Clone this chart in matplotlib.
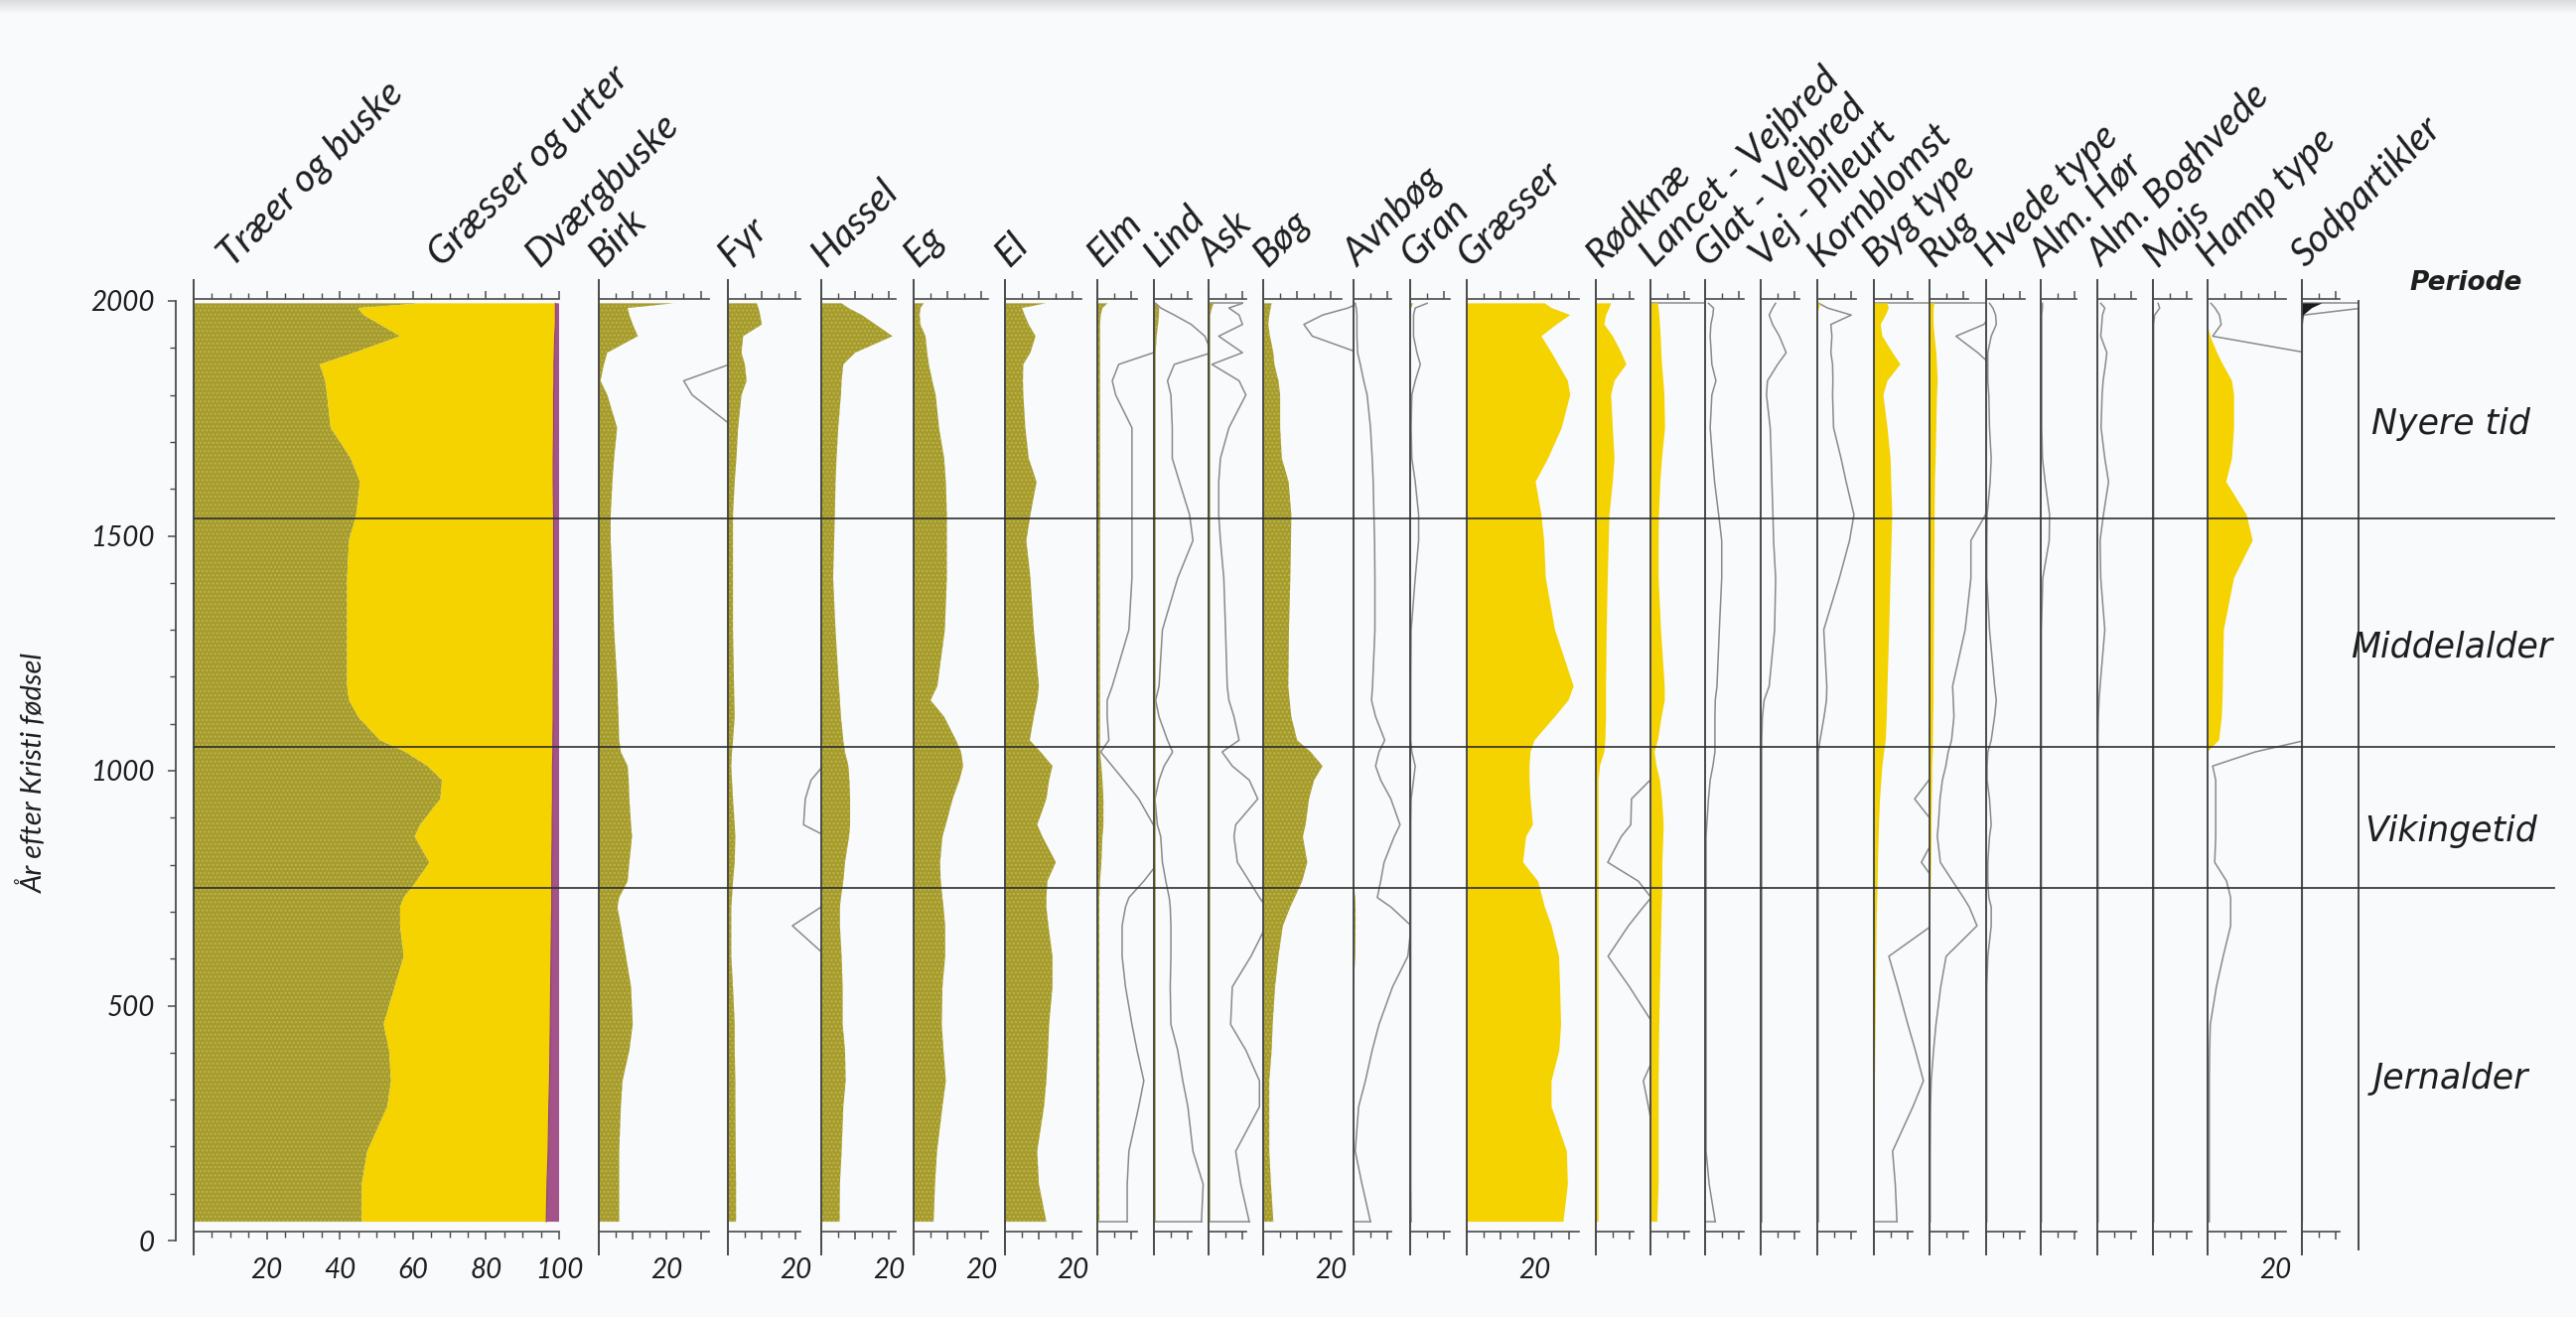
import numpy as np
import matplotlib
matplotlib.use("Agg")
import matplotlib.pyplot as plt

plt.rcParams['font.family'] = ['Lato', 'DejaVu Sans']
plt.rcParams['hatch.linewidth'] = 0.9

FIG_W, FIG_H, DPI = 2594, 1326, 100

# ---------------------------------------------------------------- data
years = [1995, 1985, 1970, 1950, 1925, 1890, 1865, 1830, 1800, 1730,
         1665, 1615, 1545, 1490, 1410, 1300, 1180, 1150, 1115, 1065,
         1040, 1010, 980, 940, 885, 860, 805, 765, 730, 710,
         670, 605, 540, 460, 405, 340, 285, 190, 120, 40]

# summary diagram (percent of total pollen)
traer = [62, 45, 46.5, 51, 56.5, 44, 34.5, 36, 36.5, 37.5,
         43, 45.5, 44.5, 42.5, 42, 42, 42, 42.5, 45, 51,
         58, 64, 68, 67.5, 62, 60.5, 64.5, 61, 57.5, 56.5,
         56.5, 57.5, 55, 52, 53.5, 54, 53, 47.5, 46, 46]
graesser_urter = [37, 54, 52.5, 48, 42.3, 54.7, 64.1, 62.6, 62, 61,
                  55.4, 52.9, 54, 56, 56.5, 56.5, 56.4, 55.9, 53.4, 47.3,
                  40.3, 34.2, 30.2, 30.7, 36.1, 37.6, 33.5, 37, 40.5, 41.5,
                  41.4, 40.3, 42.7, 45.6, 44, 43.4, 44.2, 49.5, 50.7, 50.5]
dvaergbuske = [1.0, 1.0, 1.0, 1.0, 1.2, 1.3, 1.4, 1.4, 1.5, 1.5,
               1.6, 1.6, 1.5, 1.5, 1.5, 1.5, 1.6, 1.6, 1.6, 1.7,
               1.7, 1.8, 1.8, 1.8, 1.9, 1.9, 2.0, 2.0, 2.0, 2.0,
               2.1, 2.2, 2.3, 2.4, 2.5, 2.6, 2.8, 3.0, 3.3, 3.5]

# trees
birk = [22, 8.5, 9, 10, 11.5, 2.5, 1.5, 0.5, 2.5, 5.4,
        4.5, 4, 3.5, 3.5, 4, 4.5, 5.5, 5.6, 5.8, 6,
        6.5, 8.5, 8.8, 9, 9.5, 9.8, 9, 8.5, 6, 5.5,
        6.5, 8, 9.5, 10, 9, 7, 6.5, 6, 6, 6]
birk_x = [40, 40, 40, 40, 40, 40, 38.5, 25, 27.5, 40,
          40, 40, 40, 40, 40, 40, 40, 40, 40, 40,
          40, 40, 40, 40, 40, 40, 40, 40, 40, 40,
          40, 40, 40, 40, 40, 40, 40, 40, 40, 40]
fyr = [8.5, 9, 9.5, 10, 4.5, 4, 5, 5.5, 4, 3,
       2.5, 2, 1.5, 1.5, 1.5, 1.5, 1.8, 1.9, 2, 1.5,
       1.2, 1.0, 1.2, 1.5, 2, 2.2, 2.0, 1.5, 1.2, 1.0,
       1.0, 1.0, 1.5, 2, 2, 2.2, 2.2, 2.3, 2.4, 2.4]
fyr_x = [29, 29, 29, 29, 29, 29, 29, 29, 29, 29,
         29, 29, 29, 29, 29, 29, 29, 29, 29, 29,
         29, 28, 24.5, 22.8, 22.3, 29, 29, 29, 29, 27.5,
         19, 29, 29, 29, 29, 29, 29, 29, 29, 29]
hassel = [6, 8, 12, 16, 21, 10, 6.5, 6, 5.8, 5,
          4.5, 4.2, 4, 3.8, 3.5, 4.2, 5.2, 5.5, 5.8, 6.5,
          7, 8, 8.3, 8.5, 8.5, 8.2, 7, 6.5, 5.8, 5.5,
          5.5, 6, 6.3, 6.3, 7, 7.2, 6.5, 6, 5.5, 5.4]
eg = [3, 2, 1.8, 2, 3.5, 4, 4.5, 5.5, 6.5, 7.5,
      9, 9.5, 9.8, 9.8, 9.8, 9.2, 7, 5, 9, 12.5,
      14, 14.6, 13.5, 11.5, 9.5, 8.5, 7.8, 8, 8.5, 8.8,
      9.3, 9.3, 8.5, 8.3, 8.8, 9.5, 8.5, 6.9, 6.3, 5.9]
el = [12, 5, 5.8, 7, 9, 7.5, 5.4, 5.3, 5.4, 6,
      7, 9.3, 7.5, 6.3, 7.5, 8.5, 10, 9.5, 8.5, 7.3,
      10.5, 14, 13, 12.2, 9.5, 11, 15, 12.5, 12.2, 12.2,
      12.8, 14, 14, 13, 12.7, 12.2, 11.5, 9.5, 10, 12.2]
elm = [3, 1.5, 1, 0.8, 0.8, 0.8, 0.8, 0.8, 0.8, 0.8,
       0.8, 0.8, 0.8, 0.8, 0.8, 0.8, 0.8, 0.8, 0.8, 0.8,
       0.8, 1.2, 1.5, 1.8, 1.8, 1.5, 1.2, 0.8, 0.6, 0.6,
       0.6, 0.6, 0.6, 0.6, 0.6, 0.6, 0.6, 0.6, 0.6, 0.6]
elm_x = [18, 18, 18, 18, 18, 16.6, 6.3, 4.4, 5.4, 10.2,
         10.2, 10.2, 10.2, 10.2, 10.2, 9.3, 4.4, 2.9, 2.9, 3.4,
         1, 4.4, 7.8, 12.2, 16.5, 18, 18, 13.7, 9.3, 8.3,
         7.3, 7.3, 8.3, 10.2, 11.7, 13.7, 12.2, 9.3, 8.8, 8.8]
lind = [0.5, 1.5, 1.5, 1.2, 0.8, 0.5, 0.5, 0.5, 0.5, 0.5,
        0.5, 0.5, 0.5, 0.5, 0.5, 0.5, 0.5, 0.5, 0.5, 0.5,
        0.5, 0.5, 0.5, 0.5, 0.5, 0.5, 0.5, 0.5, 0.5, 0.5,
        0.5, 0.5, 0.5, 0.5, 0.5, 0.5, 0.5, 0.5, 0.5, 0.5]
lind_x = [0.5, 2, 6, 11, 15, 17, 6, 4, 5, 5.4,
          5.4, 7.5, 10.5, 11.5, 7, 2.5, 1.5, 0.5, 1.5, 4,
          5.5, 3, 1.5, 0.3, 1, 2, 2.5, 3.5, 4.5, 4.8,
          5, 5, 4.8, 5, 7, 8.5, 10, 11.5, 14.5, 14]
ask = [1.5, 1, 0.5, 0.5, 0.5, 0.5, 0.5, 0.5, 0.5, 0.5,
       0.5, 0.5, 0.5, 0.5, 0.5, 0.5, 0.5, 0.5, 0.5, 0.5,
       0.5, 0.5, 0.5, 0.5, 0.5, 0.5, 0.5, 0.5, 0.5, 0.5,
       0.5, 0.5, 0.5, 0.5, 0.5, 0.5, 0.5, 0.5, 0.5, 0.5]
ask_x = [10, 6, 9, 10, 3, 10, 1, 9, 11, 6,
         3.5, 3, 3, 3.5, 4.5, 5, 5.5, 6, 7.5, 9,
         4, 7, 12, 14.5, 8, 7.5, 8.5, 12, 15, 17,
         17, 12.5, 7, 6.5, 11, 15, 15, 8, 9.5, 12]
bog = [2.5, 2.2, 1.8, 1.5, 2, 3, 3.3, 4.5, 5, 5,
       5.5, 7.5, 8.3, 8.2, 8, 7.6, 7.4, 7.8, 8.3, 10,
       14, 17.5, 15, 13.5, 12.5, 11.7, 13, 11.5, 9.3, 8,
       5.8, 4.5, 3.5, 2.8, 2.5, 1.8, 1.8, 1.8, 2.3, 3]
bog_x = [28, 25, 17.5, 12, 14.5, 28, 28, 28, 28, 28,
         28, 28, 28, 28, 28, 28, 28, 28, 28, 28,
         28, 28, 28, 28, 28, 28, 28, 28, 28, 28,
         28, 28, 28, 28, 28, 28, 28, 28, 28, 28]
avnbog = [0, 0, 0, 0, 0, 0, 0, 0, 0, 0,
          0, 0, 0, 0, 0, 0, 0, 0, 0, 0,
          0, 0, 0, 0, 0, 0, 0, 0, 0.5, 0.6,
          0.6, 0.5, 0, 0, 0, 0, 0, 0, 0, 0]
avnbog_x = [0.5, 0.8, 1, 1, 1, 1.2, 2, 3, 4, 5,
            5.5, 5.8, 6, 6.2, 6.3, 6.3, 5.6, 5.3, 6.5, 9.2,
            7.5, 6.5, 8, 11, 13.7, 12, 9, 8, 7, 11,
            17, 16, 11.5, 7.5, 5.5, 3.5, 1.5, 0.5, 2.5, 5]
gran = [0.8, 0.3, 0.2, 0.2, 0.2, 0.2, 0.2, 0.2, 0.2, 0.2,
        0.2, 0.2, 0.2, 0.2, 0.2, 0.2, 0.2, 0.2, 0.2, 0.2,
        0.2, 0.2, 0.2, 0.2, 0.2, 0.2, 0.2, 0.2, 0.2, 0.2,
        0.2, 0.2, 0.2, 0.2, 0.2, 0.2, 0.2, 0.2, 0.2, 0.2]
gran_x = [5, 1.5, 1, 1, 1, 2, 3, 1.5, 0.5, 0.3,
          0.5, 1.5, 2.5, 2.5, 1.5, 0.3, 0.2, 0.2, 0.2, 0.2,
          0.5, 1.5, 1, 0.3, 0.2, 0.2, 0.2, 0.2, 0.2, 0.2,
          0.2, 0.2, 0.2, 0.2, 0.2, 0.2, 0.2, 0.2, 0.2, 0.3]

# herbs and cultivated plants
graesser = [23, 25, 30.5, 26.5, 22, 25, 27, 29.8, 30.5, 28,
            24, 20.3, 22, 22.8, 23.3, 26, 31.5, 30, 26, 20,
            18.8, 18.5, 18.5, 18.8, 19.5, 17.5, 16.6, 21, 22.3, 23,
            25, 27.2, 27.5, 27.8, 27.3, 25, 25, 29.5, 29.8, 28.5]
rodknae = [4.5, 4, 3, 2.5, 5, 7.5, 9, 5.5, 4.5, 5,
           5.5, 5, 4, 3.8, 3.5, 3.2, 3, 3, 3, 2.8,
           2.5, 1.2, 0.8, 0.8, 0.8, 0.8, 0.8, 0.8, 0.8, 0.8,
           0.8, 0.8, 0.8, 0.8, 0.8, 0.8, 0.8, 0.8, 0.8, 0.8]
rodknae_x = [18, 18, 18, 18, 18, 18, 18, 18, 18, 18,
             18, 18, 18, 18, 18, 18, 18, 18, 18, 18,
             18, 18, 16, 10.5, 10.3, 7.5, 3.5, 12.5, 16.3, 14,
             9.6, 3.6, 9.9, 17, 18, 14, 15.5, 18, 18, 18]
lancet = [2.2, 2.4, 2.6, 2.8, 3, 3.2, 3.4, 3.8, 4.1, 4.3,
          3.4, 2.9, 2.5, 2.4, 2.4, 3.1, 4.2, 4.2, 3.3, 2.2,
          1.2, 1.8, 2.8, 3.4, 3.9, 3.8, 3.5, 3.5, 3.4, 3.3,
          3.2, 3, 2.8, 2.6, 2.5, 2.4, 2.4, 2.4, 2.4, 2]
lancet_x = [18, 18, 18, 18, 18, 18, 18, 18, 18, 18,
            18, 18, 18, 18, 18, 18, 18, 18, 18, 18,
            18, 18, 18, 18, 18, 18, 18, 18, 18, 18,
            18, 18, 18, 18, 18, 18, 18, 18, 18, 18]
glat_x = [1, 2.5, 2.3, 1.7, 1.5, 1.8, 2, 3.2, 2, 1.5,
          2.2, 2.8, 4, 4.9, 4.9, 4.2, 3.5, 3, 2.9, 2.9,
          2.9, 2.3, 1.5, 1, 0.5, 0.3, 0.3, 0.3, 0.3, 0.3,
          0.3, 0.3, 0.3, 0.3, 0.3, 0.3, 0.3, 0.3, 1.2, 3]
vej_x = [4.4, 3.5, 2.5, 3.5, 5.5, 7.5, 5, 2, 1.7, 2.8,
         3.1, 3.3, 3.6, 3.8, 4.4, 4.1, 2.5, 1, 0.5, 0.3,
         0.3, 0.3, 0.3, 0.3, 0.3, 0.3, 0.3, 0.3, 0.3, 0.3,
         0.3, 0.3, 0.3, 0.3, 0.3, 0.3, 0.3, 0.3, 0.3, 0.3]
korn = [1, 0.5, 0, 0, 0, 0, 0, 0, 0, 0,
        0, 0, 0, 0, 0, 0, 0, 0, 0, 0,
        0, 0, 0, 0, 0, 0, 0, 0, 0, 0,
        0, 0, 0, 0, 0, 0, 0, 0, 0, 0]
korn_x = [0.5, 3, 10, 4, 4.3, 4, 4.5, 4.6, 4.5, 4.8,
          7, 8.5, 10.8, 9.5, 6.5, 1.9, 2.8, 2.7, 2, 0.8,
          0.3, 0.3, 0.3, 0.3, 0.3, 0.3, 0.3, 0.3, 0.3, 0.3,
          0.3, 0.3, 0.3, 0.3, 0.3, 0.3, 0.3, 0.3, 0.3, 0.3]
byg = [4, 4.4, 3.5, 2, 2.5, 5.5, 7.8, 4, 2.8, 4,
       4.9, 5.1, 5.4, 5.2, 4.9, 4.5, 4, 3.9, 3.8, 3.5,
       3, 2.5, 2.2, 1.8, 1.5, 1.4, 1.2, 1.1, 1, 0.9,
       0.8, 0.7, 0.6, 0.5, 0.4, 0.3, 0.3, 0.2, 0.2, 0.2]
byg_x = [18, 18, 18, 18, 18, 18, 18, 18, 18, 18,
         18, 18, 18, 18, 18, 18, 18, 18, 18, 18,
         18, 18, 16.2, 12, 18, 18, 14, 18, 18, 18,
         17, 4.4, 7, 10, 12.2, 14.6, 11.5, 5.5, 6.3, 6.8]
rug = [1.5, 1.2, 1.2, 1.2, 1.5, 2, 2.2, 2.4, 2.2, 2,
       1.8, 1.6, 1.5, 1.5, 1.4, 1.3, 1.2, 1.2, 1.1, 1,
       1, 0.8, 0.8, 0.7, 0.6, 0.6, 0.5, 0.4, 0.3, 0.3,
       0.1, 0, 0, 0, 0, 0, 0, 0, 0, 0]
rug_x = [18, 18, 18, 16, 7.8, 14.2, 18, 18, 18, 18,
         18, 18, 16.5, 12.2, 12.2, 10.5, 6.8, 7, 7.2, 6.5,
         5.5, 4.8, 3.8, 3.1, 2.6, 2.3, 3.2, 6.8, 10, 11.7,
         14, 4.9, 3.3, 1.9, 1.2, 0.5, 0.3, 0.2, 0.2, 0.2]
hvede_x = [1, 2, 2.8, 3, 1.5, 0.5, 0.5, 0.5, 0.8, 1,
           1.5, 1.2, 0.3, 0.2, 0.2, 1, 2.5, 3, 2.5, 1.5,
           0.5, 0.3, 0.3, 1, 1.5, 1, 0.5, 0.5, 0.8, 1.5,
           1.5, 0.5, 0.2, 0.2, 0.2, 0.2, 0.2, 0.2, 0.2, 0.2]
hor_x = [0.5, 0.5, 0.3, 0.3, 0.3, 0.3, 0.3, 0.3, 0.3, 0.3,
         0.5, 1.3, 2.6, 2.5, 0.6, 0.2, 0.2, 0.2, 0.2, 0.2,
         0.2, 0.2, 0.2, 0.2, 0.2, 0.2, 0.2, 0.2, 0.2, 0.2,
         0.2, 0.2, 0.2, 0.2, 0.2, 0.2, 0.2, 0.2, 0.2, 0.2]
boghvede_x = [1, 2.2, 1.5, 1.3, 1, 2.8, 2.4, 1.7, 1.4, 1.1,
              2.2, 3.3, 1.8, 0.8, 1, 2.2, 0.8, 0.5, 0.3, 0.2,
              0.2, 0.2, 0.2, 0.2, 0.2, 0.2, 0.2, 0.2, 0.2, 0.2,
              0.2, 0.2, 0.2, 0.2, 0.2, 0.2, 0.2, 0.2, 0.2, 0.2]
majs_x = [1.5, 2, 0.5, 0.2, 0.2, 0.2, 0.2, 0.2, 0.2, 0.2,
          0.2, 0.2, 0.2, 0.2, 0.2, 0.2, 0.2, 0.2, 0.2, 0.2,
          0.2, 0.2, 0.2, 0.2, 0.2, 0.2, 0.2, 0.2, 0.2, 0.2,
          0.2, 0.2, 0.2, 0.2, 0.2, 0.2, 0.2, 0.2, 0.2, 0.2]
hamp = [0, 0, 0, 0, 0.8, 2.8, 4.5, 7.2, 7.8, 7.8,
        7.2, 5.5, 11.5, 13.3, 7.8, 4.8, 4.5, 4.4, 4.2, 3.4,
        0, 0, 0, 0, 0, 0, 0, 0, 0, 0,
        0, 0, 0, 0, 0, 0, 0, 0, 0, 0]
hamp_x = [1, 2.2, 3.5, 4, 1.5, 29, 29, 29, 29, 29,
          29, 29, 29, 29, 29, 29, 29, 29, 29, 29,
          14, 1.5, 2.4, 2.4, 2.4, 2.4, 2.1, 5.6, 6.8, 6.8,
          6.8, 4.6, 2.6, 0.8, 0.6, 0.5, 0.5, 0.5, 0.5, 0.5]
sod = [6, 3, 0.5, 0, 0, 0, 0, 0, 0, 0,
       0, 0, 0, 0, 0, 0, 0, 0, 0, 0,
       0, 0, 0, 0, 0, 0, 0, 0, 0, 0,
       0, 0, 0, 0, 0, 0, 0, 0, 0, 0]
sod_x = [18, 18, 0.5, 0.1, 0.1, 0.1, 0.1, 0.1, 0.1, 0.1,
         0.1, 0.1, 0.1, 0.1, 0.1, 0.1, 0.1, 0.1, 0.1, 0.1,
         0.1, 0.1, 0.1, 0.1, 0.1, 0.1, 0.1, 0.1, 0.1, 0.1,
         0.1, 0.1, 0.1, 0.1, 0.1, 0.1, 0.1, 0.1, 0.1, 0.1]

period_names = ["Nyere tid", "Middelalder", "Vikingetid", "Jernalder"]
period_bounds = [2000, 1536, 1050, 750, 0]

# ---------------------------------------------------------------- style
BG = '#f8fafb'
OLIVE = '#a69c2c'
OLIVE_GRAIN = '#bfb556'
YELLOW = '#f4d300'
MAGENTA = '#a4528a'
BLACK = '#1a1a1a'
LINE_GREY = '#8a8a8a'
SPINE = '#4a4a4a'
TEXT = '#1e1e1e'
TITLE_SIZE = 28

panels = [
    # title, fill values, colour, exaggeration curve, axis length, "20" label
    ("Birk", birk, OLIVE, birk_x, 32.5, True),
    ("Fyr", fyr, OLIVE, fyr_x, 21.5, True),
    ("Hassel", hassel, OLIVE, None, 22, True),
    ("Eg", eg, OLIVE, None, 22, True),
    ("El", el, OLIVE, None, 22.5, True),
    ("Elm", elm, OLIVE, elm_x, 11.7, False),
    ("Lind", lind, OLIVE, lind_x, 11.2, False),
    ("Ask", ask, OLIVE, ask_x, 11.2, False),
    ("Bøg", bog, OLIVE, bog_x, 23, True),
    ("Avnbøg", avnbog, OLIVE, avnbog_x, 11.2, False),
    ("Gran", gran, OLIVE, gran_x, 11.7, False),
    ("Græsser", graesser, YELLOW, None, 33, True),
    ("Rødknæ", rodknae, YELLOW, rodknae_x, 11.2, False),
    ("Lancet - Vejbred", lancet, YELLOW, lancet_x, 11.5, False),
    ("Glat - Vejbred", None, None, glat_x, 11.5, False),
    ("Vej - Pileurt", None, None, vej_x, 11.5, False),
    ("Kornblomst", korn, YELLOW, korn_x, 11.5, False),
    ("Byg type", byg, YELLOW, byg_x, 11.5, False),
    ("Rug", rug, YELLOW, rug_x, 11.5, False),
    ("Hvede type", None, None, hvede_x, 11.5, False),
    ("Alm. Hør", None, None, hor_x, 10.5, False),
    ("Alm. Boghvede", None, None, boghvede_x, 11.5, False),
    ("Majs", None, None, majs_x, 11.5, False),
    ("Hamp type", hamp, YELLOW, hamp_x, 23, True),
    ("Sodpartikler", sod, BLACK, sod_x, 11.2, False),
]
CLOSE_TOP = {"Ask", "Lancet - Vejbred", "Byg type", "Rug", "Sodpartikler"}
CLOSE_BOTTOM = {"Elm", "Lind", "Ask", "Avnbøg", "Glat - Vejbred", "Byg type"}

# ---------------------------------------------------------------- layout (pixels)
SPINE_PX = [603, 733, 827, 920, 1012, 1105, 1162, 1217, 1272, 1363, 1420, 1477,
            1607, 1662, 1717, 1773, 1830, 1887, 1943, 2000, 2055, 2112, 2168,
            2223, 2318]
RIGHT_END_PX = 2375
MAIN_PX = (195, 563)
YEAR_AXIS_PX = 177
PX_PER_PCT = 3.417
Y0_PX, PX_PER_YEAR = 1249, 0.473
YEAR_MIN, YEAR_MAX = -30, 2045
TOP_AXIS_YEAR, BOTTOM_AXIS_YEAR = 2005, 20
TITLE_BASE_PX = 270
TITLE_ROT = 45

def rect(x0, x1):
    y_top = Y0_PX - YEAR_MAX * PX_PER_YEAR
    y_bot = Y0_PX - YEAR_MIN * PX_PER_YEAR
    return [x0 / FIG_W, 1 - y_bot / FIG_H, (x1 - x0) / FIG_W, (y_bot - y_top) / FIG_H]

def fig_xy(x, y):
    return x / FIG_W, 1 - y / FIG_H

def title_text(xpx, label):
    fx, fy = fig_xy(xpx, TITLE_BASE_PX)
    fig.text(fx, fy, label, rotation=TITLE_ROT, rotation_mode='anchor', ha='left',
             va='baseline', fontsize=TITLE_SIZE, fontstyle='italic', color=TEXT)

fig = plt.figure(figsize=(FIG_W / DPI, FIG_H / DPI), dpi=DPI, facecolor=BG)

# faint grey band along the top edge
band = fig.add_axes([0, 1 - 14 / FIG_H, 1, 14 / FIG_H])
band.imshow(np.linspace(0, 1, 14)[:, None], aspect='auto',
            cmap=matplotlib.colors.LinearSegmentedColormap.from_list('band', ['#dcdcdc', BG]))
band.axis('off')

def style_panel(ax, xmax, axis_len, majors, labelled):
    ax.set_xlim(0, xmax)
    ax.set_ylim(YEAR_MIN, YEAR_MAX)
    ax.patch.set_visible(False)
    ax.spines['right'].set_visible(False)
    ax.spines['left'].set_color(SPINE)
    ax.spines['left'].set_linewidth(1.4)
    for side, yr in (('top', TOP_AXIS_YEAR), ('bottom', BOTTOM_AXIS_YEAR)):
        sp = ax.spines[side]
        sp.set_position(('data', yr))
        sp.set_bounds(0, axis_len)
        sp.set_color(SPINE)
        sp.set_linewidth(1.2)
    ax.xaxis.set_ticks_position('both')
    ax.set_xticks(majors)
    ax.set_xticklabels([f"{m:g}" if m in labelled else "" for m in majors],
                       fontstyle='italic', fontsize=20, color=TEXT)
    minors = np.arange(0, axis_len + 0.01, 5)
    ax.set_xticks(minors, minor=True)
    ax.tick_params(axis='x', which='major', length=6, width=1.1, direction='out',
                   color=SPINE, pad=13, labeltop=False, labelbottom=True)
    ax.tick_params(axis='x', which='minor', length=4, width=1.0, direction='out',
                   color=SPINE)
    ax.set_yticks([])

def olive_fill(ax, vals, left=None):
    lo = 0 if left is None else left
    ax.fill_betweenx(years, lo, vals, facecolor=OLIVE, edgecolor='none', lw=0, zorder=2)
    ax.fill_betweenx(years, lo, vals, facecolor='none', edgecolor=OLIVE_GRAIN,
                     lw=0, hatch='....', zorder=2.1)

# ---------------------------------------------------------------- summary panel
ax = fig.add_axes(rect(*MAIN_PX))
style_panel(ax, 100, 100, np.arange(0, 101, 20), {20, 40, 60, 80, 100})
t = np.array(traer)
h = t + np.array(graesser_urter)
d = h + np.array(dvaergbuske)
olive_fill(ax, t)
ax.fill_betweenx(years, t, h, facecolor=YELLOW, edgecolor='none', lw=0, zorder=2)
ax.fill_betweenx(years, h, d, facecolor=MAGENTA, edgecolor='none', lw=0, zorder=2)
ax.plot(h, years, color='#8a3f70', lw=0.8, zorder=2.2)
for label, xpx in (("Træer og buske", 234), ("Græsser og urter", 445), ("Dværgbuske", 543)):
    title_text(xpx, label)

# ---------------------------------------------------------------- taxon panels
for i, (title, vals, col, exag, axis_len, has20) in enumerate(panels):
    x0 = SPINE_PX[i]
    x1 = SPINE_PX[i + 1] if i + 1 < len(SPINE_PX) else RIGHT_END_PX
    xmax = (x1 - x0) / PX_PER_PCT
    ax = fig.add_axes(rect(x0, x1))
    majors = np.arange(0, axis_len + 0.01, 10)
    style_panel(ax, xmax, axis_len, majors, {20} if has20 else set())
    if exag is not None:
        ax.plot(exag, years, color=LINE_GREY, lw=1.1, zorder=1.5)
        if title in CLOSE_TOP:
            ax.plot([0, exag[0]], [years[0], years[0]], color=LINE_GREY, lw=1.1, zorder=1.5)
        if title in CLOSE_BOTTOM:
            ax.plot([0, exag[-1]], [years[-1], years[-1]], color=LINE_GREY, lw=1.1, zorder=1.5)
    if vals is not None:
        if col == OLIVE:
            olive_fill(ax, vals)
        else:
            ax.fill_betweenx(years, 0, vals, facecolor=col, edgecolor='none', lw=0, zorder=2)
    if title == "Sodpartikler":
        ax.spines['right'].set_visible(True)
        ax.spines['right'].set_bounds(YEAR_MIN + 10, 2000)
        ax.spines['right'].set_color(SPINE)
        ax.spines['right'].set_linewidth(1.4)
    title_text(x0 + 4, title)

# ---------------------------------------------------------------- year axis
ay = fig.add_axes(rect(YEAR_AXIS_PX, YEAR_AXIS_PX + 2))
ay.set_ylim(YEAR_MIN, YEAR_MAX)
ay.patch.set_visible(False)
for s in ('top', 'right', 'bottom'):
    ay.spines[s].set_visible(False)
ay.spines['left'].set_bounds(0, 2000)
ay.spines['left'].set_color(SPINE)
ay.spines['left'].set_linewidth(1.3)
ay.set_xticks([])
ay.set_yticks(np.arange(0, 2001, 500))
ay.set_yticklabels([f"{v}" for v in range(0, 2001, 500)], fontstyle='italic',
                   fontsize=20, color=TEXT)
ay.set_yticks(np.arange(0, 2001, 100), minor=True)
ay.tick_params(axis='y', which='major', length=6, width=1.1, direction='out', color=SPINE, pad=9)
ay.tick_params(axis='y', which='minor', length=4, width=1.0, direction='out', color=SPINE)

fx, fy = fig_xy(33, 778)
fig.text(fx, fy, "År efter Kristi fødsel", rotation=90, ha='center', va='center',
         fontsize=21, fontstyle='italic', color=TEXT)

# ---------------------------------------------------------------- periods
ov = fig.add_axes(rect(MAIN_PX[0], 2573), zorder=5)
ov.set_xlim(0, 1)
ov.set_ylim(YEAR_MIN, YEAR_MAX)
ov.axis('off')
for b in period_bounds[1:-1]:
    ov.axhline(b, color='#2e2e2e', lw=1.2)
for name, top, bot in zip(period_names, period_bounds[:-1], period_bounds[1:]):
    ov.text(0.956, (top + bot) / 2 - 30, name, ha='center', va='center', fontsize=25,
            fontstyle='italic', family=['DejaVu Sans'], color=TEXT)
ov.text(0.962, 2038, "Periode", ha='center', va='center', fontsize=19,
        fontstyle='italic', fontweight='bold', family=['DejaVu Sans'], color=TEXT)

fig.savefig("out.png", dpi=DPI, facecolor=BG)
